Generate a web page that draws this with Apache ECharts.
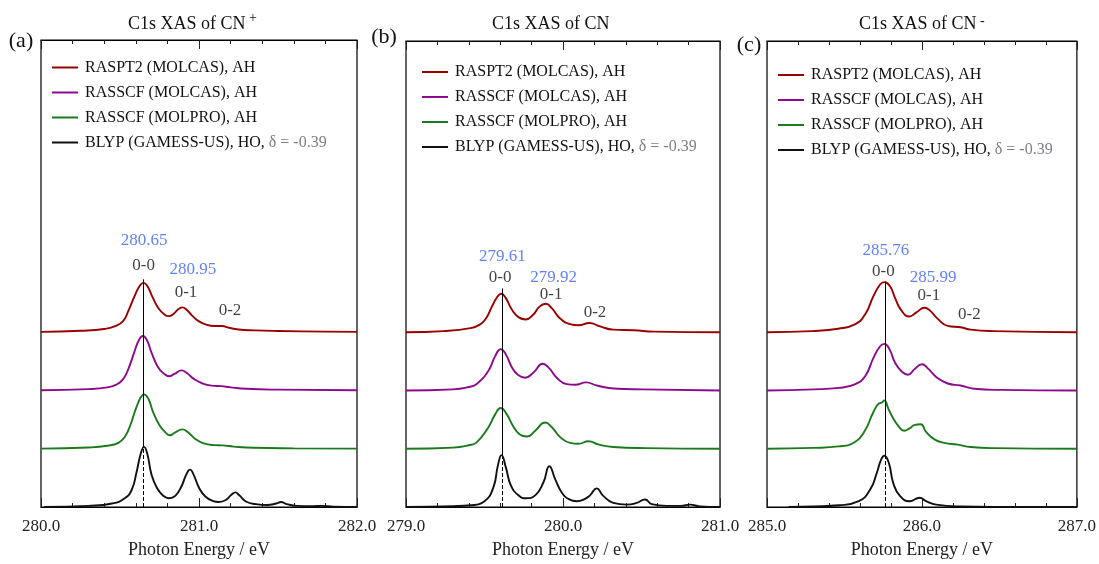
<!DOCTYPE html>
<html><head><meta charset="utf-8">
<script src="https://cdn.jsdelivr.net/npm/echarts@6/dist/echarts.min.js"></script>
<style>html,body{margin:0;padding:0;background:#fff}#c{width:1099px;height:564px}</style>
</head><body><div id="c"></div>
<script>
// ---------------- data ----------------
const seriesNames = ['RASPT2 (MOLCAS), AH', 'RASSCF (MOLCAS), AH', 'RASSCF (MOLPRO), AH', 'BLYP (GAMESS-US), HO'];
const deltaText = 'δ = -0.39';
const panelTitles = ['C1s XAS of CN', 'C1s XAS of CN', 'C1s XAS of CN'];
const chargeMarks = ['+', '', '-'];
const panelTags = ['(a)', '(b)', '(c)'];
const xRanges = [[280, 282], [279, 281], [285, 287]];
const stackOffsets = [3, 2, 1, 0];
const peak00 = [280.65, 279.61, 285.76];
const peak01 = [280.95, 279.92, 285.99];
const bandLabels = ['0-0', '0-1', '0-2'];

// Panel (a) CN+
const cnPlus_raspt2 = [[280.0,0],[280.25,0.02],[280.40,0.05],[280.47,0.10],[280.521,0.19],[280.553,0.36],[280.595,0.63],[280.625,0.79],[280.648,0.84],[280.672,0.79],[280.70,0.63],[280.742,0.41],[280.785,0.29],[280.81,0.27],[280.84,0.31],[280.87,0.39],[280.895,0.42],[280.925,0.37],[280.96,0.27],[281.0,0.18],[281.05,0.12],[281.10,0.10],[281.145,0.10],[281.19,0.07],[281.25,0.04],[281.35,0.025],[281.5,0.015],[281.8,0.005],[282.0,0]];
const cnPlus_rasscfMolcas = [[280.0,0],[280.3,0.02],[280.42,0.05],[280.48,0.10],[280.52,0.19],[280.555,0.38],[280.59,0.65],[280.62,0.86],[280.645,0.93],[280.67,0.86],[280.70,0.64],[280.74,0.40],[280.78,0.28],[280.81,0.24],[280.845,0.28],[280.89,0.34],[280.925,0.29],[280.97,0.19],[281.02,0.12],[281.08,0.08],[281.14,0.07],[281.2,0.05],[281.3,0.025],[281.5,0.01],[282.0,0]];
const cnPlus_rasscfMolpro = [[280.0,0],[280.3,0.02],[280.42,0.05],[280.49,0.10],[280.53,0.20],[280.565,0.40],[280.60,0.68],[280.63,0.87],[280.652,0.93],[280.68,0.85],[280.71,0.62],[280.75,0.40],[280.79,0.27],[280.815,0.23],[280.85,0.28],[280.895,0.33],[280.93,0.28],[280.975,0.17],[281.03,0.09],[281.1,0.06],[281.15,0.055],[281.22,0.035],[281.35,0.015],[281.6,0.005],[282.0,0]];
const cnPlus_blyp = [[280.02,0],[280.3,0.02],[280.45,0.06],[280.53,0.15],[280.575,0.30],[280.605,0.60],[280.632,0.92],[280.652,1.03],[280.672,0.92],[280.70,0.55],[280.735,0.32],[280.775,0.19],[280.81,0.15],[280.85,0.19],[280.89,0.36],[280.92,0.56],[280.943,0.64],[280.965,0.56],[281.0,0.33],[281.04,0.18],[281.09,0.10],[281.125,0.085],[281.17,0.12],[281.205,0.21],[281.23,0.25],[281.255,0.20],[281.3,0.09],[281.36,0.05],[281.43,0.035],[281.49,0.06],[281.52,0.085],[281.555,0.05],[281.62,0.02],[281.72,0.015],[281.78,0.02],[281.85,0.005],[282.0,0]];

// Panel (b) CN
const cn_raspt2 = [[279.0,0],[279.24,0.02],[279.41,0.07],[279.47,0.13],[279.51,0.24],[279.547,0.44],[279.58,0.60],[279.606,0.66],[279.635,0.59],[279.674,0.39],[279.716,0.26],[279.763,0.22],[279.81,0.30],[279.85,0.44],[279.89,0.49],[279.93,0.41],[279.98,0.24],[280.045,0.14],[280.10,0.12],[280.168,0.16],[280.236,0.10],[280.32,0.045],[280.45,0.035],[280.58,0.01],[281.0,0]];
const cn_rasscfMolcas = [[279.0,0],[279.3,0.02],[279.4,0.06],[279.45,0.11],[279.525,0.34],[279.568,0.59],[279.603,0.71],[279.636,0.62],[279.674,0.40],[279.712,0.27],[279.759,0.22],[279.812,0.31],[279.871,0.46],[279.913,0.38],[279.96,0.22],[280.024,0.11],[280.077,0.10],[280.147,0.14],[280.215,0.085],[280.32,0.035],[280.51,0.02],[281.0,0]];
const cn_rasscfMolpro = [[279.0,0],[279.3,0.02],[279.4,0.06],[279.45,0.11],[279.525,0.37],[279.568,0.59],[279.603,0.70],[279.642,0.59],[279.68,0.40],[279.723,0.25],[279.77,0.21],[279.823,0.31],[279.886,0.45],[279.929,0.37],[279.982,0.20],[280.045,0.10],[280.098,0.085],[280.162,0.13],[280.225,0.075],[280.32,0.03],[280.53,0.01],[281.0,0]];
const cn_blyp = [[279.0,0],[279.3,0.015],[279.41,0.03],[279.5,0.10],[279.557,0.34],[279.585,0.71],[279.608,0.89],[279.636,0.68],[279.668,0.37],[279.716,0.20],[279.765,0.15],[279.823,0.20],[279.875,0.42],[279.913,0.70],[279.95,0.48],[279.992,0.25],[280.04,0.13],[280.088,0.10],[280.14,0.14],[280.172,0.20],[280.215,0.32],[280.253,0.20],[280.32,0.07],[280.405,0.04],[280.469,0.07],[280.522,0.13],[280.565,0.05],[280.66,0.02],[280.75,0.02],[280.81,0.04],[280.872,0.01],[281.0,0]];

// Panel (c) CN-
const cnMinus_raspt2 = [[285.0,0],[285.29,0.02],[285.46,0.06],[285.57,0.14],[285.634,0.31],[285.687,0.62],[285.73,0.82],[285.757,0.86],[285.794,0.79],[285.826,0.59],[285.868,0.37],[285.92,0.27],[285.964,0.34],[286.017,0.42],[286.049,0.38],[286.102,0.23],[286.166,0.11],[286.25,0.085],[286.315,0.045],[286.46,0.02],[287.0,0]];
const cnMinus_rasscfMolcas = [[285.0,0],[285.3,0.02],[285.464,0.045],[285.57,0.11],[285.634,0.25],[285.687,0.56],[285.73,0.76],[285.757,0.80],[285.79,0.71],[285.826,0.48],[285.868,0.33],[285.91,0.27],[285.953,0.37],[286.0,0.45],[286.038,0.38],[286.102,0.21],[286.166,0.12],[286.25,0.085],[286.336,0.03],[286.506,0.01],[287.0,0]];
const cnMinus_rasscfMolpro = [[285.0,0],[285.3,0.015],[285.464,0.04],[285.57,0.12],[285.634,0.32],[285.687,0.63],[285.724,0.78],[285.74,0.79],[285.757,0.83],[285.783,0.69],[285.815,0.52],[285.851,0.38],[285.885,0.31],[285.92,0.35],[285.953,0.41],[285.992,0.42],[286.027,0.29],[286.081,0.16],[286.145,0.10],[286.23,0.07],[286.315,0.03],[286.464,0.01],[287.0,0]];
const cnMinus_blyp = [[285.14,0],[285.3,0.01],[285.464,0.03],[285.592,0.10],[285.666,0.30],[285.708,0.58],[285.736,0.81],[285.757,0.88],[285.787,0.75],[285.815,0.41],[285.858,0.19],[285.92,0.10],[285.985,0.16],[286.027,0.10],[286.092,0.04],[286.25,0.01],[286.68,0],[287.0,0]];

const panelData = [
  [cnPlus_raspt2, cnPlus_rasscfMolcas, cnPlus_rasscfMolpro, cnPlus_blyp],
  [cn_raspt2, cn_rasscfMolcas, cn_rasscfMolpro, cn_blyp],
  [cnMinus_raspt2, cnMinus_rasscfMolcas, cnMinus_rasscfMolpro, cnMinus_blyp]
];

// ---------------- layout / style ----------------
const FONT = '"Liberation Serif", "Times New Roman", serif';
const colors = ['#990000', '#8c0a8c', '#1b7a1b', '#111111'];
const blue = '#3a62ff';
const grids = [
  {left: 41, top: 40, width: 316, height: 471},
  {left: 406, top: 41, width: 314, height: 471},
  {left: 767, top: 41, width: 314, height: 470}
];
const legendPos = [{left: 52, top: 59}, {left: 422, top: 63.5}, {left: 778, top: 66.5}];
// annotation anchors in data space: [x, y] for value00, band00, value01, band01, band02
const annAnchors = [
  [[280.652, 4.57], [280.65, 4.13], [280.962, 4.06], [280.918, 3.67], [281.196, 3.36]],
  [[279.614, 4.30], [279.60, 3.94], [279.941, 3.94], [279.924, 3.65], [280.204, 3.33]],
  [[285.767, 4.40], [285.751, 4.04], [286.073, 3.94], [286.045, 3.63], [286.306, 3.31]]
];
const lineTops = [3.9, 3.75, 3.87];
const blypPeakTop = [1.03, 0.89, 0.88];

const option = {
  animation: false,
  backgroundColor: '#fff',
  grid: grids.map(g => Object.assign({show: true, borderColor: '#000', borderWidth: 1.2, backgroundColor: 'transparent'}, g)),
  xAxis: [],
  yAxis: [],
  legend: [],
  series: [],
  graphic: []
};

for (let p = 0; p < 3; p++) {
  const tickCommon = {
    show: true, inside: true, length: 9, lineStyle: {color: '#222', width: 1}
  };
  const minorCommon = {show: true, splitNumber: 5, length: 4, lineStyle: {color: '#222', width: 1}};
  option.xAxis.push({
    gridIndex: p, type: 'value', position: 'bottom',
    min: xRanges[p][0], max: xRanges[p][1], interval: 1,
    axisLine: {show: true, lineStyle: {color: '#000', width: 1.2}},
    axisTick: tickCommon, minorTick: minorCommon,
    splitLine: {show: false},
    axisLabel: {formatter: v => v.toFixed(1), fontFamily: FONT, fontSize: 17, color: '#222', margin: 11},
    name: 'Photon Energy / eV', nameLocation: 'middle', nameGap: 34,
    nameTextStyle: {fontFamily: FONT, fontSize: 18, color: '#222'}
  });
  option.xAxis.push({
    gridIndex: p, type: 'value', position: 'top',
    min: xRanges[p][0], max: xRanges[p][1], interval: 1,
    axisLine: {show: true, lineStyle: {color: '#000', width: 1.2}},
    axisTick: tickCommon, minorTick: minorCommon,
    splitLine: {show: false}, axisLabel: {show: false}
  });
  option.yAxis.push({gridIndex: p, type: 'value', min: 0, max: 8, show: false});

  option.legend.push({
    data: seriesNames.slice(), orient: 'vertical',
    left: legendPos[p].left, top: legendPos[p].top,
    icon: 'rect', itemWidth: 26, itemHeight: 2, itemGap: 8,
    selectedMode: false, padding: 0,
    textStyle: {
      fontFamily: FONT, fontSize: 16, color: '#111', lineHeight: 17, padding: [0, 0, 0, 2],
      rich: {
        n: {fontFamily: FONT, fontSize: 16, color: '#111', lineHeight: 17},
        d: {fontFamily: FONT, fontSize: 16, color: '#7d7d8c', lineHeight: 17}
      }
    },
    formatter: name => name === seriesNames[3] ? '{n|' + name + ', }{d|' + deltaText + '}' : name
  });

  for (let s = 0; s < 4; s++) {
    const ser = {
      name: seriesNames[s], type: 'line',
      xAxisIndex: p * 2, yAxisIndex: p,
      data: panelData[p][s].map(d => [d[0], d[1] + stackOffsets[s]]),
      smooth: 0.5,
      showSymbol: false, symbol: 'none',
      lineStyle: {color: colors[s], width: 1.9},
      itemStyle: {color: colors[s]},
      z: 3
    };
    if (s === 3) {
      const xv = peak00[p];
      ser.markLine = {
        silent: true, symbol: 'none', label: {show: false},
        lineStyle: {color: '#000', width: 1, type: 'solid'},
        data: [
          [{coord: [xv, 0], lineStyle: {type: [4, 2], color: '#000', width: 1}}, {coord: [xv, blypPeakTop[p]]}],
          [{coord: [xv, blypPeakTop[p]], lineStyle: {type: 'solid', color: '#000', width: 1}}, {coord: [xv, lineTops[p]]}]
        ]
      };
    }
    option.series.push(ser);
  }

  const annTexts = [peak00[p].toFixed(2), bandLabels[0], peak01[p].toFixed(2), bandLabels[1], bandLabels[2]];
  const annColors = [blue, '#111', blue, '#111', '#111'];
  option.series.push({
    type: 'scatter', xAxisIndex: p * 2, yAxisIndex: p,
    symbolSize: 1, itemStyle: {color: 'rgba(0,0,0,0)'}, silent: true, z: 5,
    data: annAnchors[p].map((a, i) => ({
      name: annTexts[i], value: a,
      label: {color: annColors[i]}
    })),
    label: {show: true, position: 'inside', formatter: '{b}', fontFamily: FONT, fontSize: 17}
  });
}

// titles and panel tags
const titleLeft = [128, 492, 859];
const supLeft = [249, 0, 980];
const supTop = [18, 0, 21];
const tagCenter = [[21, 41], [384, 37.5], [749, 45]];
for (let p = 0; p < 3; p++) {
  option.graphic.push({
    type: 'text', left: titleLeft[p], top: 15,
    style: {text: panelTitles[p], font: '18px ' + FONT, fill: '#111'}
  });
  if (chargeMarks[p]) {
    option.graphic.push({
      type: 'text', x: supLeft[p], y: supTop[p],
      style: {text: chargeMarks[p], font: '14px ' + FONT, fill: '#111', textAlign: 'left', textVerticalAlign: 'middle'}
    });
  }
  option.graphic.push({
    type: 'text', x: tagCenter[p][0], y: tagCenter[p][1],
    style: {text: panelTags[p], font: '22px ' + FONT, fill: '#111', textAlign: 'center', textVerticalAlign: 'middle'}
  });
}

const chart = echarts.init(document.getElementById('c'), null, {renderer: 'canvas'});
chart.setOption(option);
</script>
</body></html>
